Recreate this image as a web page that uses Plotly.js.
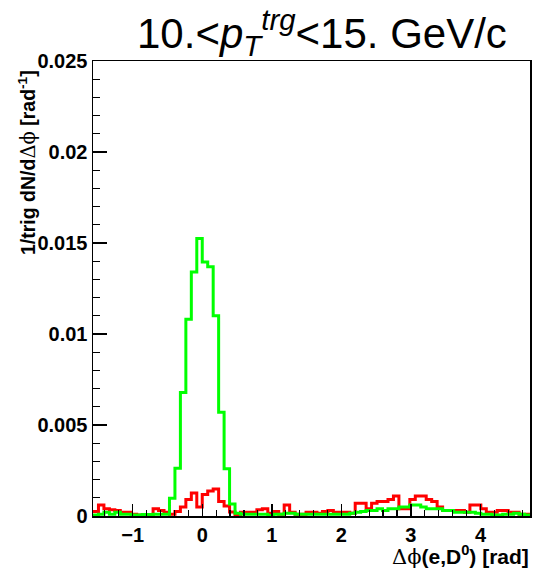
<!DOCTYPE html>
<html>
<head>
<meta charset="utf-8">
<script src="https://cdn.plot.ly/plotly-3.0.1.min.js"></script>
<style>html,body{margin:0;padding:0;background:#fff;}#plot{width:533px;height:573px;}</style>
</head>
<body>
<div id="plot"></div>
<script>
// Binning of the histograms (delta phi from -pi/2 to 3pi/2)
const nBins = 80;
const phiMin = -Math.PI / 2;
const phiMax = 3 * Math.PI / 2;

// Red series: per-bin values (1/trig dN/dDphi)
const redValues = [
  0.00025, 0.0006, 0.0004, 0.00035, 0.0003, 0.0002, 0.0002, 0.0001, 0.00005, 0.00005,
  0.00005, 0.0004, 0.0003, 0.0002, 0.0001, 0.00025, 0.0005, 0.0009, 0.00127, 0.0005,
  0.00118, 0.00138, 0.00148, 0.0008, 0.00055, 0.00022, 0.00008, 0.0002, 0.0002, 0.0002,
  0.00035, 0.0004, 0.00015, 0.00025, 0.0001, 0.0006, 0.0002, 0.0001, 0.0001, 0.0002,
  0.0002, 0.00015, 0.00025, 0.0003, 0.0002, 0.0002, 0.0002, 0.00015, 0.0007, 0.0007,
  0.0004, 0.0007, 0.0008, 0.0008, 0.0009, 0.0011, 0.0004, 0.0004, 0.0009, 0.0011,
  0.0011, 0.0009, 0.0008, 0.0005, 0.0003, 0.0003, 0.0003, 0.0003, 0.0002, 0.0006,
  0.0006, 0.0004, 0.0002, 0.0002, 0.0003, 0.0003, 0.0002, 0.0002, 0.0001, 0.0001
];

// Green series: per-bin values
const greenValues = [
  0.00005, 0.0001, 0.0002, 0.0001, 0.0002, 0.0001, 0.0001, 0.00005, 0.00005, 0.00008,
  0.00008, 0.0001, 0.0001, 0.0001, 0.00097, 0.00262, 0.00679, 0.01081, 0.01341, 0.01525,
  0.01396, 0.01369, 0.0110, 0.0057, 0.0026, 0.00066, 0.00015, 0.0001, 0.0001, 0.0001,
  0.0001, 0.0001, 0.00003, 0.0001, 0.0001, 0.00015, 0.00015, 0.0001, 0.0001, 0.0001,
  0.0001, 0.0001, 0.0001, 0.0001, 0.0001, 0.0001, 0.0001, 0.00015, 0.0002, 0.00025,
  0.0003, 0.0003, 0.0004, 0.0003, 0.0004, 0.0004, 0.0005, 0.0005, 0.0006, 0.0006,
  0.0005, 0.0004, 0.0004, 0.0004, 0.0003, 0.0003, 0.0002, 0.0002, 0.0002, 0.0002,
  0.00015, 0.0001, 0.0001, 0.00005, 0.00005, 0.0001, 0.0001, 0.00015, 0.0001, 0.00005
];

const titleText = '10.&lt;<i>p</i><sub><i>T</i></sub><sup><i>trg</i></sup>&lt;15. GeV/c';
const yTitleText = '1/trig dN/d<span style="font-family:\'DejaVu Serif\';font-weight:normal">Δϕ</span> [rad<sup>-1</sup>]';
const xTitleText = '<span style="font-family:\'DejaVu Serif\';font-weight:normal">Δϕ</span>(e,D<sup>0</sup>) [rad]';

function edges() {
  const w = (phiMax - phiMin) / nBins;
  const e = [];
  for (let k = 0; k <= nBins; k++) e.push(phiMin + k * w);
  return e;
}
function stepTrace(vals, color) {
  const x = edges();
  const y = vals.concat([vals[vals.length - 1]]);
  return {x: x, y: y, type: 'scatter', mode: 'lines',
          line: {shape: 'hv', color: color, width: 3}, hoverinfo: 'skip', showlegend: false};
}

const L = 93, R = 530, T = 61, B = 516;
function px(x) { return (x - L) / (R - L); }
function py(y) { return (B - y) / (B - T); }

const tickFont = {family: 'Liberation Sans, Arial, sans-serif', size: 20, color: '#000', weight: 'bold'};

const layout = {
  width: 533, height: 573,
  margin: {l: L, r: 533 - R, t: T, b: 573 - B, pad: 0},
  paper_bgcolor: '#fff', plot_bgcolor: '#fff',
  showlegend: false,
  xaxis: {
    range: [phiMin, phiMax], showgrid: false, zeroline: false,
    showline: true, mirror: true, linecolor: '#000', linewidth: 1.5,
    ticks: 'inside', ticklen: 12, tickwidth: 1.5, tickcolor: '#000',
    tick0: 0, dtick: 1, tickfont: tickFont,
    minor: {ticks: 'inside', ticklen: 6, tickwidth: 1.2, tickcolor: '#000', tick0: 0, dtick: 0.2, showgrid: false}
  },
  yaxis: {
    range: [0, 0.025], showgrid: false, zeroline: false,
    showline: true, mirror: true, linecolor: '#000', linewidth: 1.5,
    ticks: 'inside', ticklen: 14, tickwidth: 1.5, tickcolor: '#000',
    tick0: 0, dtick: 0.005, tickfont: tickFont,
    minor: {ticks: 'inside', ticklen: 7, tickwidth: 1.2, tickcolor: '#000', tick0: 0, dtick: 0.001, showgrid: false}
  },
  annotations: [
    {text: titleText, xref: 'paper', yref: 'paper', x: px(322), y: py(32),
     xanchor: 'center', yanchor: 'middle', showarrow: false,
     font: {family: 'Liberation Sans, Arial, sans-serif', size: 42, color: '#000'}},
    {text: yTitleText, xref: 'paper', yref: 'paper', x: px(27), y: py(163),
     xanchor: 'center', yanchor: 'middle', textangle: -90, showarrow: false,
     font: {family: 'Liberation Sans, Arial, sans-serif', size: 19.5, color: '#000', weight: 'bold'}},
    {text: xTitleText, xref: 'paper', yref: 'paper', x: px(531), y: py(555),
     xanchor: 'right', yanchor: 'middle', showarrow: false,
     font: {family: 'Liberation Sans, Arial, sans-serif', size: 21, color: '#000', weight: 'bold'}}
  ]
};

Plotly.newPlot('plot', [stepTrace(redValues, '#ff0000'), stepTrace(greenValues, '#00ff00')], layout,
  {staticPlot: true, displayModeBar: false});
</script>
</body>
</html>
